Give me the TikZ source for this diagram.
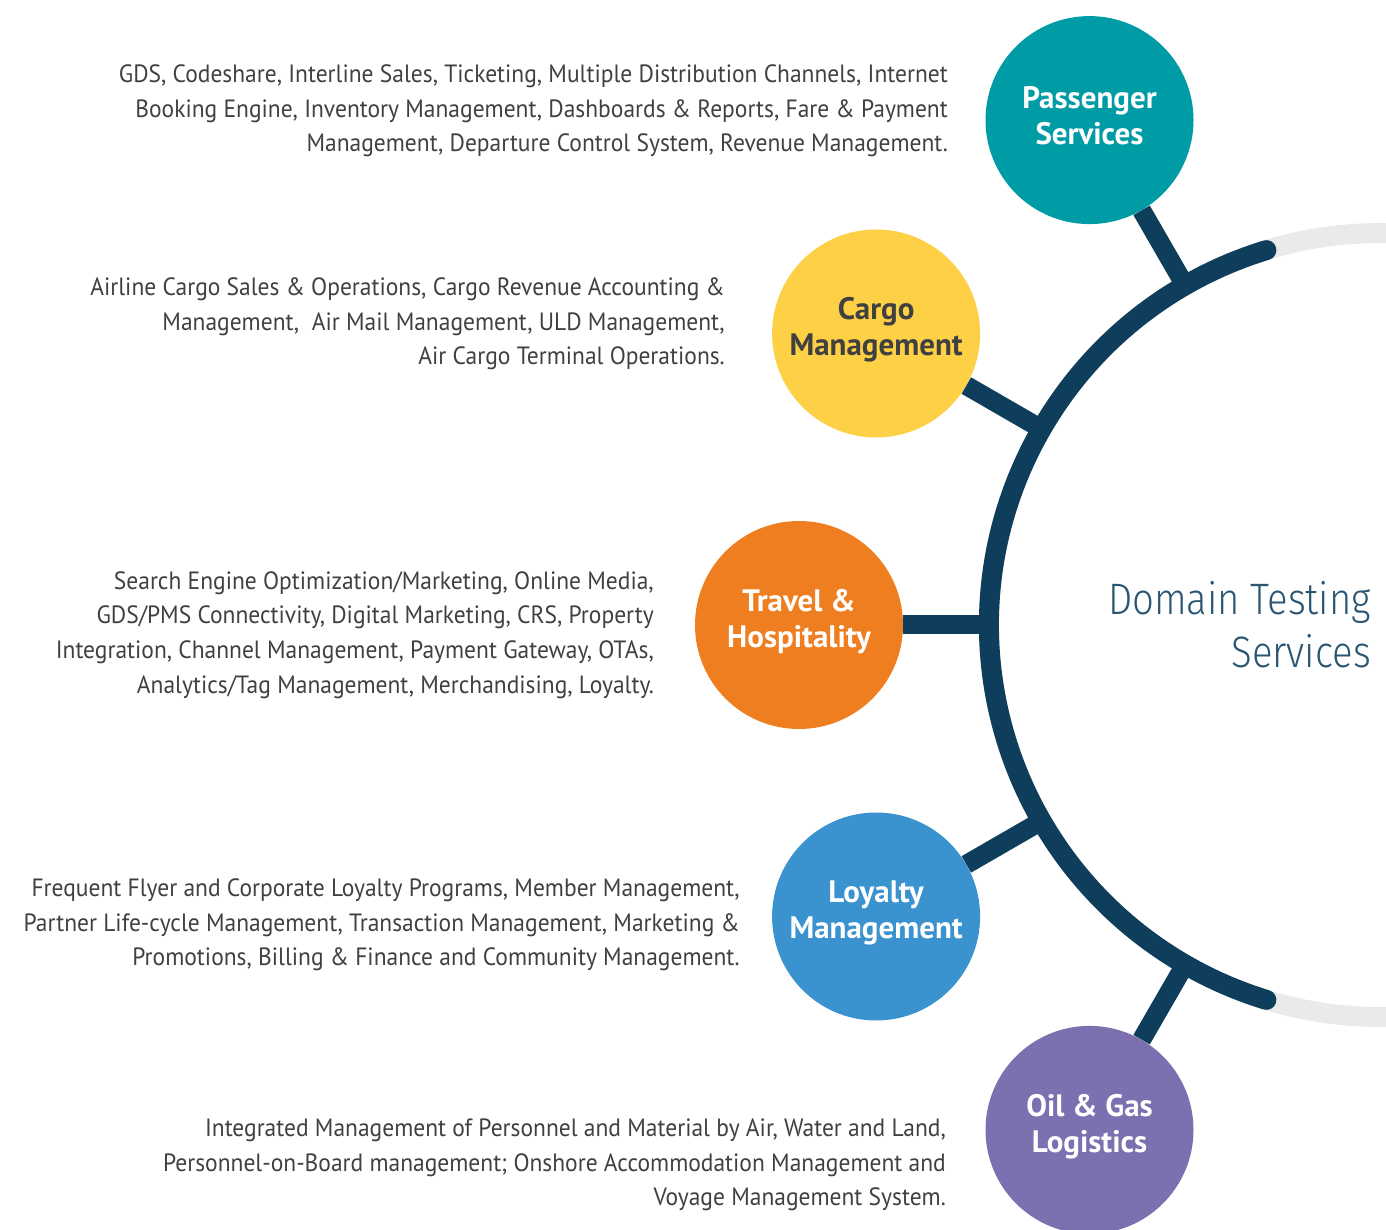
\documentclass[tikz,border=0pt]{standalone}
\usepackage{fontspec}
\setmainfont{PT Sans}[FakeStretch=0.94]
\newfontfamily\labelfont{PT Sans}
\newfontfamily\titlefont{Fira Sans}[UprightFont={* Light}, FakeStretch=0.87]
\definecolor{pascol}{HTML}{009CA6}
\definecolor{carcol}{HTML}{FDD045}
\definecolor{travcol}{HTML}{EE7E1F}
\definecolor{loycol}{HTML}{3A92CF}
\definecolor{oilcol}{HTML}{7D70B0}
\definecolor{navy}{HTML}{0F3E5C}
\definecolor{ringcol}{HTML}{E9EBEA}
\definecolor{desccol}{HTML}{404040}
\definecolor{titlecol}{HTML}{2A5673}
\tikzset{
  dom/.style={circle, minimum size=208pt, inner sep=0pt},
  domtxt/.style={inner sep=0pt, text=white, align=center,
    font=\labelfont\fontsize{31}{36}\selectfont\bfseries},
  desc/.style={anchor=east, inner sep=0pt, align=right, text=desccol,
    font=\fontsize{25}{34.6}\selectfont},
  spoke/.style={navy, line width=19pt},
}
\begin{document}
\begin{tikzpicture}[x=1pt,y=1pt]
\useasboundingbox (0,0) rectangle (1386,1229);
\clip (0,0) rectangle (1386,1229);
\coordinate (c) at (1381,604);
% ring
\draw[ringcol, line width=20pt] (c) circle (392);
\draw[navy, line width=20pt, line cap=round] ([shift={(107:392)}]c) arc[start angle=107, end angle=253, radius=392];
\node[text=titlecol, align=right, anchor=east, inner sep=0pt,
  font=\titlefont\fontsize{44}{53}\selectfont] (title) at (1371,604) {Domain Testing\\Services};
% junctions on the arc
\coordinate (j1) at ([shift={(120:392)}]c);
\coordinate (j2) at ([shift={(150:392)}]c);
\coordinate (j3) at ([shift={(180:392)}]c);
\coordinate (j4) at ([shift={(210:392)}]c);
\coordinate (j5) at ([shift={(240:392)}]c);
% domains
\node[dom, fill=pascol] (pas) at ([shift={(120:583)}]c) {};
\node[dom, fill=carcol] (car) at ([shift={(150:583)}]c) {};
\node[dom, fill=travcol] (trav) at ([shift={(180:582)}]c) {};
\node[dom, fill=loycol] (loy) at ([shift={(210:583)}]c) {};
\node[dom, fill=oilcol] (oil) at ([shift={(240:583)}]c) {};
\node[domtxt] (pas-t) at ([yshift=4]pas.center) {Passenger\\Services};
\node[domtxt, text=desccol] (car-t) at ([yshift=4]car.center) {Cargo\\Management};
\node[domtxt] (trav-t) at ([yshift=3]trav.center) {Travel \&\\Hospitality};
\node[domtxt] (loy-t) at ([yshift=4]loy.center) {Loyalty\\Management};
\node[domtxt] (oil-t) at ([yshift=3]oil.center) {Oil \& Gas\\Logistics};
\draw[spoke] (pas) -- (j1);
\draw[spoke] (car) -- (j2);
\draw[spoke] (trav) -- (j3);
\draw[spoke] (loy) -- (j4);
\draw[spoke] (oil) -- (j5);
% descriptions
\node[desc] (pasd) at (948,1118) {GDS, Codeshare, Interline Sales, Ticketing, Multiple Distribution Channels, Internet\\
  Booking Engine, Inventory Management, Dashboards \& Reports, Fare \& Payment\\
  Management, Departure Control System, Revenue Management.};
\node[desc] (card) at (725,905) {Airline Cargo Sales \& Operations, Cargo Revenue Accounting \&\\
  Management,\ \ Air Mail Management, ULD Management,\\
  Air Cargo Terminal Operations.};
\node[desc] (travd) at (654,594) {Search Engine Optimization/Marketing, Online Media,\\
  GDS/PMS Connectivity, Digital Marketing, CRS, Property\\
  Integration, Channel Management, Payment Gateway, OTAs,\\
  Analytics/Tag Management, Merchandising, Loyalty.};
\node[desc] (loyd) at (740,304) {Frequent Flyer and Corporate Loyalty Programs, Member Management,\\
  Partner Life-cycle Management, Transaction Management, Marketing \&\\
  Promotions, Billing \& Finance and Community Management.};
\node[desc] (oild) at (946,64) {Integrated Management of Personnel and Material by Air, Water and Land,\\
  Personnel-on-Board management; Onshore Accommodation Management and\\
  Voyage Management System.};
\end{tikzpicture}
\end{document}
